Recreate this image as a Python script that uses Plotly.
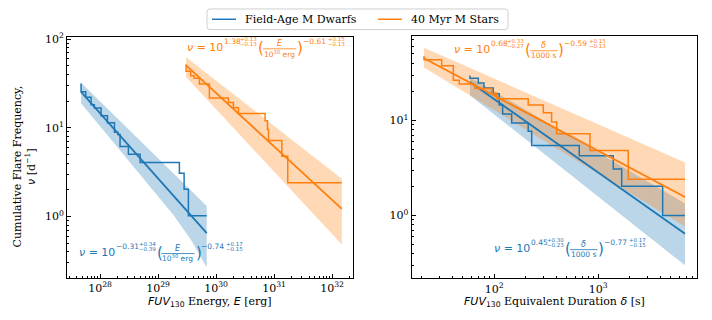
import plotly.graph_objects as go

W, H = 712, 320
BLUE, ORANGE = '#1f77b4', '#ff7f0e'
BLUE_FILL = 'rgba(31,119,180,0.3)'
ORANGE_FILL = 'rgba(255,127,14,0.3)'
SERIF = 'DejaVu Serif'
SANS = 'DejaVu Sans'

# ---- left panel: FUV130 energy (erg) vs cumulative frequency (1/d) ----
field_e = [4.7e27, 5.66e27, 7.0e27, 7.98e27, 1.04e28, 1.34e28, 1.77e28, 2.02e28,
           2.21e28, 3.08e28, 4.9e28, 2.33e29, 2.81e29, 3.33e29, 6.9e29]
field_e_nu = [31.6, 25.5, 22.1, 18.2, 16.7, 13.7, 11.4, 8.95,
              8.43, 6.15, 5.05, 4.08, 3.08, 2.03, 1.02]
field_e_fit_x = [4.7e27, 6.9e29]
field_e_fit_y = [25.5, 0.65]
field_e_up_x = [4.7e27, 6.9e29]
field_e_up_y = [32.2, 1.32]
field_e_lo_x = [4.7e27, 2.88e28, 1.84e29, 3.8e29, 6.9e29]
field_e_lo_y = [19.0, 4.5, 1.04, 0.53, 0.267]

young_e = [3.04e29, 3.66e29, 4.18e29, 5.16e29, 7.67e29, 1.63e30, 1.99e30,
           2.43e30, 7.0e30, 7.68e30, 7.99e30, 1.36e31, 1.72e31, 1.47e32]
young_e_nu = [52.0, 43.4, 38.6, 36.2, 31.3, 21.7, 19.3,
              16.9, 14.5, 12.0, 9.6, 7.2, 4.8, 2.4]
young_e_fit_x = [3.04e29, 1.47e32]
young_e_fit_y = [50.6, 1.22]
young_e_up_x = [3.04e29, 1.47e32]
young_e_up_y = [62.5, 2.67]
young_e_lo_x = [3.04e29, 1.47e32]
young_e_lo_y = [37.5, 0.484]

# ---- right panel: equivalent duration (s) ----
field_d = [58.4, 70.2, 79.6, 97.8, 111.6, 120.4, 147, 212, 229, 656, 1393, 1678, 4157, 6820]
field_d_nu = [29.6, 27.8, 24.7, 21.9, 19.1, 14.5, 11.7, 9.38, 7.7, 5.46, 4.25, 3.08, 2.04, 1.0]
field_d_fit_x = [58.4, 6820]
field_d_fit_y = [25.3, 0.645]
field_d_up_x = [58.4, 6820]
field_d_up_y = [28.5, 1.34]
field_d_lo_x = [58.4, 6820]
field_d_lo_y = [18.4, 0.30]

young_d = [21.1, 31.2, 40.4, 46.1, 65.2, 94.4, 105.5, 212, 296, 356, 398, 832, 1941, 6820]
young_d_nu = [47.6, 43.4, 37.6, 26.5, 24.1, 21.7, 19.3, 16.9, 14.5, 12.05, 9.64, 7.23, 4.82, 2.41]
young_d_fit_x = [21.1, 6820]
young_d_fit_y = [45.0, 1.57]
young_d_up_x = [21.1, 6820]
young_d_up_y = [58.0, 3.62]
young_d_lo_x = [21.1, 6820]
young_d_lo_y = [36.0, 0.77]

series_names = ['Field-Age M Dwarfs', '40 Myr M Stars']

fig = go.Figure()


def add_band(xs_up, ys_up, xs_lo, ys_lo, fill, xa, ya):
    fig.add_scatter(x=xs_up + xs_lo[::-1], y=ys_up + ys_lo[::-1], fill='toself',
                    fillcolor=fill, mode='lines', line_width=0, hoverinfo='skip',
                    showlegend=False, xaxis=xa, yaxis=ya)


def add_lines(step_x, step_y, fit_x, fit_y, color, name, xa, ya):
    fig.add_scatter(x=fit_x, y=fit_y, mode='lines', line=dict(color=color, width=1.8),
                    showlegend=False, xaxis=xa, yaxis=ya)
    fig.add_scatter(x=step_x, y=step_y, mode='lines', name=name, showlegend=False,
                    line=dict(color=color, width=1.5, shape='vh'), xaxis=xa, yaxis=ya)


# left panel
add_band(field_e_up_x, field_e_up_y, field_e_lo_x, field_e_lo_y, BLUE_FILL, 'x', 'y')
add_band(young_e_up_x, young_e_up_y, young_e_lo_x, young_e_lo_y, ORANGE_FILL, 'x', 'y')
add_lines(field_e, field_e_nu, field_e_fit_x, field_e_fit_y, BLUE, series_names[0], 'x', 'y')
add_lines(young_e, young_e_nu, young_e_fit_x, young_e_fit_y, ORANGE, series_names[1], 'x', 'y')

# right panel
add_band(field_d_up_x, field_d_up_y, field_d_lo_x, field_d_lo_y, BLUE_FILL, 'x2', 'y2')
add_band(young_d_up_x, young_d_up_y, young_d_lo_x, young_d_lo_y, ORANGE_FILL, 'x2', 'y2')
add_lines(field_d, field_d_nu, field_d_fit_x, field_d_fit_y, BLUE, series_names[0], 'x2', 'y2')
add_lines(young_d, young_d_nu, young_d_fit_x, young_d_fit_y, ORANGE, series_names[1], 'x2', 'y2')


def log_axis(decades, lo_dec, hi_dec):
    minors = [m * 10.0 ** k for k in range(lo_dec, hi_dec + 1) for m in range(2, 10)]
    return dict(type='log', showline=True, mirror=True, linecolor='black', linewidth=1,
                ticks='inside', ticklen=4, tickwidth=1, tickcolor='black',
                showgrid=False, zeroline=False,
                tickfont=dict(family=SERIF, size=11, color='black'),
                tickvals=[10.0 ** d for d in decades],
                ticktext=[f'10<sup>{d}</sup>' for d in decades],
                minor=dict(ticks='inside', ticklen=2, tickcolor='black', tickvals=minors,
                           showgrid=False))


fig.update_layout(
    width=W, height=H, margin=dict(l=0, r=0, t=0, b=0),
    plot_bgcolor='white', paper_bgcolor='white', showlegend=False,
    xaxis=dict(domain=[0.0941, 0.4958], range=[27.43, 32.36], anchor='y',
               **log_axis([28, 29, 30, 31, 32], 27, 32)),
    yaxis=dict(domain=[0.134, 0.9], range=[-0.69, 2.03], anchor='x',
               **log_axis([0, 1, 2], -1, 2)),
    xaxis2=dict(domain=[0.5782, 0.9785], range=[1.206, 3.946], anchor='y2',
                **log_axis([2, 3], 1, 3)),
    yaxis2=dict(domain=[0.132, 0.901], range=[-0.66, 1.885], anchor='x2',
                **log_axis([0, 1], -1, 1)),
)

# ---- text: axis titles and fit formulas ----
CW = {'0': .636, '1': .636, '2': .636, '3': .636, '4': .636, '5': .636, '6': .636,
      '7': .636, '8': .636, '9': .636, '.': .318, '+': .838, '−': .838, '=': .838,
      ' ': .318, 'ν': .592, '(': .39, ')': .39, 'E': .632, 'δ': .612, 'e': .615,
      'r': .411, 'g': .635, 's': .521}


def tw(s, size):
    return size * sum(CW.get(c, .6) for c in s)


def px(x):
    return x / W


def py(y):
    return 1 - y / H


def note(x, y, text, size, color, anchor='left', family=SANS, angle=0):
    fig.add_annotation(x=px(x), y=py(y), xref='paper', yref='paper', text=text,
                       showarrow=False, xanchor=anchor, yanchor='middle', textangle=angle,
                       borderpad=0, font=dict(family=family, size=size, color=color))


def hline(x0, x1, y, color, width):
    fig.add_shape(type='line', xref='paper', yref='paper', x0=px(x0), x1=px(x1),
                  y0=py(y), y1=py(y), line=dict(color=color, width=width))


def formula(x0, yc, color, a, a_up, a_lo, var, den, den_w, b, b_up, b_lo):
    x = x0
    note(x, yc, '<i>ν</i> = 10', 11, color)
    x += tw('ν = 10', 11)
    note(x, yc - 6, a, 7.5, color)
    x += tw(a, 7.5)
    note(x, yc - 8, a_up, 5.5, color)
    note(x, yc - 3, a_lo, 5.5, color)
    x += tw(a_up, 5.5) + 1
    note(x, yc + 1, '(', 15, color)
    x += tw('(', 15)
    note(x + den_w / 2, yc - 3.5, f'<i>{var}</i>', 8, color, 'center')
    note(x + den_w / 2, yc + 6.5, den, 7.5, color, 'center')
    hline(x, x + den_w, yc + 1.5, color, 0.8)
    x += den_w
    note(x, yc + 1, ')', 15, color)
    x += tw(')', 15)
    note(x, yc - 6, b, 7.5, color)
    x += tw(b, 7.5) + 2
    note(x, yc - 8, b_up, 5.5, color)
    note(x, yc - 3, b_lo, 5.5, color)


erg_w = tw('10 erg', 7.5) + tw('30', 5.3) + 2
sec_w = tw('1000 s', 7.5) + 2
formula(186, 43, ORANGE, '1.38', '+0.13', '−0.13', 'E', '10<sup>30</sup> erg', erg_w,
        '−0.61', '+0.15', '−0.13')
formula(78, 251, BLUE, '−0.31', '+0.34', '−0.39', 'E', '10<sup>30</sup> erg', erg_w,
        '−0.74', '+0.17', '−0.15')
formula(453, 45, ORANGE, '0.68', '+0.33', '−0.27', 'δ', '1000 s', sec_w,
        '−0.59', '+0.15', '−0.13')
formula(493, 247, BLUE, '0.45', '+0.30', '−0.23', 'δ', '1000 s', sec_w,
        '−0.77', '+0.17', '−0.15')

sans = '<span style="font-family:DejaVu Sans">'
note(210, 302, f'{sans}<i>FUV</i><sub>130</sub></span> Energy, {sans}<i>E</i></span> [erg]',
     11, 'black', 'center', SERIF)
note(554, 302, f'{sans}<i>FUV</i><sub>130</sub></span> Equivalent Duration {sans}<i>δ</i></span> [s]',
     11, 'black', 'center', SERIF)
note(24, 164, f'Cumulative Flare Frequency,<br>{sans}<i>ν</i></span> [d<sup>−1</sup>]',
     11, 'black', 'center', SERIF, -90)

# ---- legend box drawn at the top centre (rounded frame) ----
lx0, lx1, ly0, ly1, r = 207, 508, 4, 25, 3
path = (f'M {px(lx0 + r)},{py(ly0)} L {px(lx1 - r)},{py(ly0)} '
        f'Q {px(lx1)},{py(ly0)} {px(lx1)},{py(ly0 + r)} L {px(lx1)},{py(ly1 - r)} '
        f'Q {px(lx1)},{py(ly1)} {px(lx1 - r)},{py(ly1)} L {px(lx0 + r)},{py(ly1)} '
        f'Q {px(lx0)},{py(ly1)} {px(lx0)},{py(ly1 - r)} L {px(lx0)},{py(ly0 + r)} '
        f'Q {px(lx0)},{py(ly0)} {px(lx0 + r)},{py(ly0)} Z')
fig.add_shape(type='path', path=path, xref='paper', yref='paper',
              fillcolor='white', line=dict(color='#d0d0d0', width=1))
for (x_line, x_text), name, color in zip([(212, 244), (378, 410)], series_names, [BLUE, ORANGE]):
    hline(x_line, x_line + 24, 14.5, color, 1.5)
    note(x_text, 14.5, name, 11, 'black', 'left', SERIF)

fig.write_html('out.html', config={'displayModeBar': False},
               post_script="document.body.style.margin='0';")
